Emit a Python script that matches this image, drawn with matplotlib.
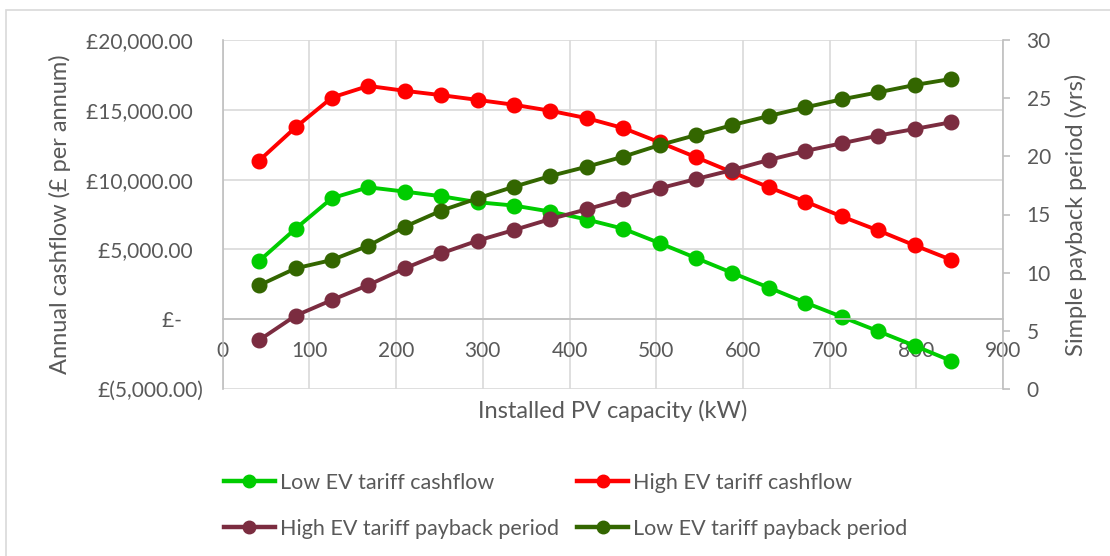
import matplotlib
matplotlib.use("Agg")
import matplotlib.pyplot as plt
from matplotlib.lines import Line2D
from matplotlib.patches import Rectangle

# Installed PV capacity (kW)
capacity_kw = [42, 84, 126, 168, 210, 252, 294, 336, 378, 420,
               462, 504, 546, 588, 630, 672, 714, 756, 798, 840]

# Annual cashflow (£ per annum)
low_ev_cashflow = [4170, 6480, 8670, 9450, 9140, 8810, 8380, 8140, 7710, 7140,
                   6480, 5450, 4380, 3310, 2260, 1190, 170, -860, -1900, -2980]
high_ev_cashflow = [11360, 13740, 15880, 16710, 16360, 16050, 15710, 15360, 14930, 14400,
                    13690, 12670, 11600, 10520, 9450, 8430, 7360, 6360, 5290, 4260]

# Simple payback period (years)
high_ev_payback = [4.2, 6.3, 7.65, 8.94, 10.37, 11.66, 12.75, 13.67, 14.61, 15.45,
                   16.33, 17.25, 18.05, 18.83, 19.69, 20.46, 21.12, 21.78, 22.35, 22.93]
low_ev_payback = [8.91, 10.37, 11.09, 12.32, 13.95, 15.33, 16.39, 17.39, 18.31, 19.11,
                  19.97, 20.97, 21.83, 22.69, 23.47, 24.21, 24.9, 25.5, 26.13, 26.65]

x_ticks = [0, 100, 200, 300, 400, 500, 600, 700, 800, 900]
cash_ticks = [-5000, 0, 5000, 10000, 15000, 20000]
cash_labels = ["£(5,000.00)", "£-    ", "£5,000.00  ", "£10,000.00  ",
               "£15,000.00  ", "£20,000.00  "]
payback_ticks = [0, 5, 10, 15, 20, 25, 30]

TEXT = "#595959"
GRID = "#d9d9d9"
AXIS = "#bfbfbf"
FONT = "Lato"

plt.rcParams["font.family"] = FONT

W, H = 1110, 556
fig = plt.figure(figsize=(W / 100, H / 100), dpi=100)

# chart-area frame
fig.patches.append(Rectangle((6 / W, -0.1), 1.2, (H - 10) / H + 0.1,
                             transform=fig.transFigure, fill=False,
                             edgecolor=GRID, linewidth=1.2))

left, right, top, bottom = 222.7, 1003, 40, 389
ax = fig.add_axes([left / W, 1 - bottom / H, (right - left) / W, (bottom - top) / H])
ax2 = ax.twinx()

lw, ms = 2.8, 10.5
c_low, c_high = "#00cc00", "#ff0000"
c_high_pb, c_low_pb = "#7b2c40", "#336600"

ax.plot(capacity_kw, low_ev_cashflow, color=c_low, lw=lw, marker="o", ms=ms)
ax.plot(capacity_kw, high_ev_cashflow, color=c_high, lw=lw, marker="o", ms=ms)
ax2.plot(capacity_kw, high_ev_payback, color=c_high_pb, lw=lw, marker="o", ms=ms)
ax2.plot(capacity_kw, low_ev_payback, color=c_low_pb, lw=lw, marker="o", ms=ms)

ax.set_xlim(0, 900)
ax.set_ylim(-5000, 20000)
ax2.set_ylim(0, 30)

ax.set_xticks(x_ticks)
ax.set_yticks(cash_ticks)
ax.set_yticklabels(cash_labels)
ax2.set_yticks(payback_ticks)

ax.grid(True, color=GRID, lw=1.2)
ax.set_axisbelow(True)

for sp in ["top", "right"]:
    ax.spines[sp].set_visible(False)
ax.spines["bottom"].set_position(("data", 0))
ax.spines["bottom"].set_color(AXIS)
ax.spines["left"].set_color(AXIS)
for sp in ["top", "left", "bottom"]:
    ax2.spines[sp].set_visible(False)
ax2.spines["right"].set_color(AXIS)
for s in ax.spines.values():
    s.set_linewidth(1.2)
ax2.spines["right"].set_linewidth(1.2)

TICK_FS = 15
ax.tick_params(axis="x", length=0, pad=16, labelsize=TICK_FS, labelcolor=TEXT)
ax.tick_params(axis="y", length=0, pad=14, labelsize=TICK_FS, labelcolor=TEXT)
ax2.tick_params(axis="y", length=5, width=1.2, color=AXIS, pad=12,
                labelsize=TICK_FS, labelcolor=TEXT)

TITLE_FS = 17
ax.set_xlabel("Installed PV capacity (kW)", fontsize=TITLE_FS, color=TEXT)
ax.xaxis.label.set_va("center")
ax.xaxis.set_label_coords(0.5, (bottom - 411) / (bottom - top))

ax.set_ylabel("Annual cashflow (£ per annum)", fontsize=TITLE_FS, color=TEXT)
ax2.set_ylabel("Simple payback period (yrs)", fontsize=TITLE_FS, color=TEXT)
for lab in (ax.yaxis.label, ax2.yaxis.label):
    lab.set_va("center")
    lab.set_ha("center")
    lab.set_rotation_mode("default")
ax.yaxis.set_label_coords((60 - left) / (right - left), 0.5)
ax2.yaxis.set_label_coords((1076 - left) / (right - left), 0.5)

# legend: row 1 cashflows, row 2 payback periods (column-major fill)
def handle(c):
    return Line2D([], [], color=c, lw=3.2, marker="o", ms=9)

handles = [handle(c_low), handle(c_high_pb), handle(c_high), handle(c_low_pb)]
labels = ["Low EV tariff cashflow", "High EV tariff payback period",
          "High EV tariff cashflow", "Low EV tariff payback period"]
fig.legend(handles, labels, ncol=2, loc="upper left",
           bbox_to_anchor=(224 / W, 1 - 473 / H), frameon=False,
           borderpad=0, borderaxespad=0,
           fontsize=15.5, labelcolor=TEXT, handlelength=2.35, handletextpad=0.23,
           columnspacing=0.88, labelspacing=1.2)

fig.savefig("out.png", dpi=100)
